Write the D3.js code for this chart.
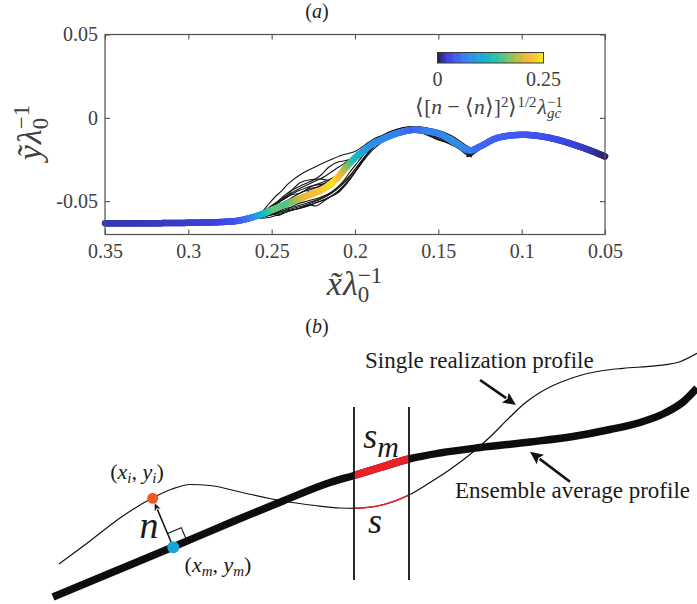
<!DOCTYPE html>
<html><head><meta charset="utf-8">
<script src="https://cdn.jsdelivr.net/npm/d3@7"></script>
<style>body{margin:0;background:#fff}svg{display:block}</style>
</head><body>
<svg id="c" width="697" height="604"></svg>
<script>
// ---------------- Panel (a) data ----------------
const xTicks = [0.35, 0.3, 0.25, 0.2, 0.15, 0.1, 0.05];
const xTickLabels = ["0.35", "0.3", "0.25", "0.2", "0.15", "0.1", "0.05"];
const yTicks = [-0.05, 0, 0.05];
const yTickLabels = ["-0.05", "0", "0.05"];
const cbTicks = [0, 0.25];
const cbTickLabels = ["0", "0.25"];

// ensemble-average profile and its normal-distance rms
const meanX = [0.35,0.32,0.30,0.28,0.27,0.262,0.255,0.248,0.24,0.23,0.22,0.212,0.206,0.2,0.195,0.19,0.185,0.179,0.172,0.165,0.158,0.149,0.139,0.131,0.125,0.115,0.101,0.089,0.079,0.069,0.059,0.05];
const meanY = [-0.0632,-0.0632,-0.0630,-0.0625,-0.0617,-0.0598,-0.0575,-0.0545,-0.0512,-0.0472,-0.0432,-0.0375,-0.0305,-0.0240,-0.0200,-0.0160,-0.0135,-0.0108,-0.0085,-0.0072,-0.0078,-0.0098,-0.0155,-0.0195,-0.0172,-0.0122,-0.0102,-0.0110,-0.0130,-0.0160,-0.0195,-0.0232];
const meanStd = [0.015,0.017,0.02,0.025,0.035,0.06,0.11,0.16,0.15,0.205,0.225,0.245,0.19,0.13,0.1,0.08,0.075,0.07,0.06,0.045,0.06,0.07,0.075,0.065,0.05,0.045,0.04,0.035,0.03,0.025,0.016,0.006];

// single realizations (upper group U, lower group L)
const realU1 = [[0.27,-0.0617],[0.262,-0.0597],[0.256,-0.0565],[0.252,-0.052],[0.248,-0.0475],[0.244,-0.0438],[0.24,-0.0395],[0.232,-0.0335],[0.224,-0.0295],[0.216,-0.0258],[0.208,-0.0225],[0.2,-0.0202],[0.194,-0.0162],[0.188,-0.0122],[0.181,-0.0098],[0.176,-0.0075],[0.17,-0.0058],[0.164,-0.0052],[0.158,-0.0058],[0.152,-0.0070],[0.147,-0.0085],[0.142,-0.0108],[0.137,-0.0140],[0.133,-0.0168],[0.13,-0.0182],[0.126,-0.0168],[0.12,-0.0140]];
const realU2 = [[0.262,-0.0597],[0.255,-0.057],[0.249,-0.0525],[0.244,-0.048],[0.238,-0.0435],[0.231,-0.040],[0.224,-0.0368],[0.22,-0.034],[0.216,-0.0298],[0.211,-0.0268],[0.205,-0.0255],[0.199,-0.0232],[0.194,-0.0198],[0.189,-0.0158],[0.182,-0.0125],[0.176,-0.0098],[0.17,-0.0085],[0.164,-0.0080],[0.158,-0.0090],[0.153,-0.0112],[0.148,-0.0135],[0.143,-0.0152],[0.139,-0.0168],[0.135,-0.0192],[0.132,-0.0215],[0.129,-0.0215],[0.125,-0.0185],[0.119,-0.0142]];
const realU3 = [[0.262,-0.0597],[0.254,-0.0565],[0.247,-0.0515],[0.241,-0.047],[0.237,-0.0425],[0.233,-0.039],[0.227,-0.0372],[0.22,-0.0368],[0.215,-0.0385],[0.214,-0.041],[0.218,-0.0435],[0.225,-0.0445],[0.229,-0.0432],[0.226,-0.041],[0.219,-0.0395],[0.212,-0.036],[0.206,-0.031],[0.2,-0.0252],[0.194,-0.0195],[0.188,-0.0142],[0.181,-0.0105],[0.175,-0.0080],[0.169,-0.0065],[0.163,-0.0060],[0.157,-0.0068],[0.151,-0.0092],[0.146,-0.0122],[0.142,-0.0130],[0.138,-0.0150],[0.134,-0.0185],[0.131,-0.0212],[0.128,-0.0198],[0.124,-0.0172],[0.119,-0.0140]];
const realU4 = [[0.258,-0.0585],[0.252,-0.0555],[0.246,-0.051],[0.24,-0.047],[0.234,-0.0438],[0.228,-0.0415],[0.221,-0.0392],[0.215,-0.0368],[0.209,-0.0335],[0.203,-0.029],[0.197,-0.0232],[0.191,-0.017],[0.185,-0.0125],[0.181,-0.0092],[0.175,-0.0068],[0.169,-0.0055],[0.163,-0.0056],[0.157,-0.0064],[0.151,-0.0080],[0.146,-0.0102],[0.141,-0.0128],[0.136,-0.0158],[0.132,-0.0188],[0.129,-0.0195],[0.125,-0.0175],[0.119,-0.0140]];
const realU5 = [[0.26,-0.0592],[0.253,-0.0562],[0.247,-0.0528],[0.241,-0.0498],[0.236,-0.0468],[0.231,-0.0442],[0.226,-0.0428],[0.22,-0.0405],[0.214,-0.0375],[0.208,-0.0325],[0.202,-0.027],[0.196,-0.021],[0.19,-0.0152],[0.184,-0.0115],[0.178,-0.0092],[0.172,-0.0078],[0.166,-0.0074],[0.16,-0.0080],[0.154,-0.0098],[0.149,-0.0122],[0.144,-0.0140],[0.139,-0.0158],[0.134,-0.0188],[0.131,-0.0202],[0.127,-0.0185],[0.121,-0.0148]];
const realU6 = [[0.257,-0.058],[0.251,-0.0538],[0.245,-0.0492],[0.239,-0.0455],[0.232,-0.0418],[0.225,-0.0385],[0.218,-0.035],[0.212,-0.031],[0.206,-0.027],[0.2,-0.0225],[0.195,-0.0182],[0.189,-0.0138],[0.183,-0.0102],[0.177,-0.0078],[0.171,-0.0062],[0.165,-0.0055],[0.159,-0.0060],[0.153,-0.0075],[0.148,-0.0092],[0.143,-0.0118],[0.138,-0.0150],[0.134,-0.0178],[0.13,-0.0190],[0.126,-0.0172],[0.12,-0.0143]];
const realU7 = [[0.259,-0.0588],[0.253,-0.0548],[0.248,-0.0512],[0.243,-0.049],[0.238,-0.0462],[0.233,-0.0452],[0.228,-0.0425],[0.222,-0.0415],[0.217,-0.0392],[0.211,-0.0352],[0.205,-0.0295],[0.199,-0.0232],[0.193,-0.0172],[0.187,-0.0128],[0.181,-0.0098],[0.175,-0.0078],[0.169,-0.0068],[0.163,-0.0066],[0.157,-0.0076],[0.152,-0.0092],[0.147,-0.0118],[0.142,-0.0140],[0.137,-0.0165],[0.133,-0.0192],[0.13,-0.0205],[0.126,-0.0185],[0.12,-0.0146]];
const realL1 = [[0.27,-0.0617],[0.262,-0.0603],[0.255,-0.0592],[0.248,-0.0578],[0.24,-0.056],[0.232,-0.0538],[0.225,-0.0515],[0.218,-0.049],[0.212,-0.0455],[0.207,-0.041],[0.202,-0.035],[0.197,-0.0282],[0.192,-0.021],[0.187,-0.0155],[0.182,-0.0118],[0.18,-0.0112],[0.174,-0.0092],[0.168,-0.0082],[0.162,-0.0085],[0.156,-0.0105],[0.151,-0.0128],[0.146,-0.0142],[0.141,-0.0162],[0.136,-0.0190],[0.132,-0.0220],[0.13,-0.0235],[0.131,-0.0225],[0.128,-0.0200],[0.123,-0.0168],[0.118,-0.0138]];
const realL2 = [[0.268,-0.0615],[0.26,-0.0605],[0.252,-0.0588],[0.245,-0.0565],[0.238,-0.0545],[0.231,-0.0528],[0.224,-0.0502],[0.217,-0.047],[0.211,-0.043],[0.205,-0.0375],[0.2,-0.031],[0.195,-0.0245],[0.19,-0.0185],[0.185,-0.0138],[0.179,-0.0105],[0.173,-0.0085],[0.167,-0.0074],[0.161,-0.0076],[0.155,-0.0090],[0.149,-0.0110],[0.144,-0.0135],[0.139,-0.0165],[0.135,-0.0195],[0.132,-0.0210],[0.128,-0.0192],[0.122,-0.0155]];
const realL3 = [[0.266,-0.061],[0.258,-0.0598],[0.25,-0.058],[0.243,-0.0548],[0.236,-0.0532],[0.229,-0.0512],[0.222,-0.0488],[0.215,-0.0452],[0.209,-0.0405],[0.203,-0.0345],[0.197,-0.027],[0.192,-0.0205],[0.187,-0.0155],[0.181,-0.0112],[0.175,-0.0088],[0.169,-0.0072],[0.163,-0.0066],[0.157,-0.0072],[0.152,-0.0086],[0.147,-0.0112],[0.142,-0.0145],[0.137,-0.0178],[0.133,-0.0205],[0.131,-0.0228],[0.133,-0.0232],[0.13,-0.0208],[0.125,-0.0175],[0.119,-0.0140]];
const realL4 = [[0.264,-0.0606],[0.256,-0.0596],[0.249,-0.0572],[0.242,-0.0555],[0.235,-0.0518],[0.228,-0.0498],[0.221,-0.0478],[0.214,-0.0445],[0.208,-0.0392],[0.203,-0.0325],[0.198,-0.0262],[0.193,-0.0198],[0.188,-0.0148],[0.182,-0.0110],[0.176,-0.0086],[0.17,-0.0070],[0.164,-0.0063],[0.158,-0.0070],[0.152,-0.0088],[0.147,-0.0100],[0.142,-0.0120],[0.137,-0.0155],[0.133,-0.0185],[0.13,-0.0198],[0.126,-0.0180],[0.12,-0.0146]];
const realL5 = [[0.265,-0.0608],[0.257,-0.0600],[0.251,-0.0575],[0.246,-0.0585],[0.24,-0.0558],[0.234,-0.0545],[0.228,-0.0522],[0.223,-0.0528],[0.218,-0.0495],[0.213,-0.0462],[0.208,-0.0425],[0.203,-0.0368],[0.198,-0.0298],[0.193,-0.0225],[0.188,-0.0165],[0.182,-0.0122],[0.176,-0.0095],[0.17,-0.0080],[0.164,-0.0078],[0.158,-0.0088],[0.153,-0.0108],[0.148,-0.0125],[0.143,-0.0148],[0.138,-0.0172],[0.134,-0.0200],[0.131,-0.0218],[0.128,-0.0205],[0.124,-0.0175],[0.118,-0.0138]];
const realL6 = [[0.267,-0.0612],[0.259,-0.0604],[0.252,-0.0598],[0.244,-0.0575],[0.237,-0.0552],[0.23,-0.0535],[0.223,-0.0508],[0.216,-0.048],[0.21,-0.0448],[0.205,-0.0395],[0.2,-0.0325],[0.195,-0.0258],[0.19,-0.0198],[0.184,-0.0148],[0.178,-0.0115],[0.172,-0.0095],[0.166,-0.0088],[0.16,-0.0092],[0.155,-0.0110],[0.15,-0.0132],[0.145,-0.0150],[0.14,-0.0172],[0.136,-0.0198],[0.133,-0.0222],[0.131,-0.0230],[0.128,-0.0210],[0.123,-0.0175],[0.118,-0.0140]];
const realizations = [realU1, realU2, realU3, realU4, realU5, realU6, realU7, realL1, realL2, realL3, realL4, realL5, realL6];

// colour map (fractions of the colorbar range)
const cmapStops = [0, 0.05, 0.10, 0.16, 0.25, 0.35, 0.45, 0.55, 0.65, 0.74, 0.82, 0.88, 0.95, 1.0];
const cmapColors = ["#231a33","#3434a8","#3d45e0","#4259f0","#3580f0","#2a9ae0","#14b4cc","#2cc0a8","#6cc470","#b0be40","#e8b83a","#fdbd3c","#f8d42c","#f5f21e"];

// ---------------- Panel (b) schematic data (schematic units) ----------------
const ensembleProfile = [[53,7],[113,32],[173,57],[233,82.5],[283,103],[330,121.5],[354,128.5],[380,136.5],[409,145],[440,151],[480,156.5],[530,162],[573,167.5],[610,174.5],[640,181.5],[665,191],[683,202],[697,216]];
const singleProfile = [[59,40],[90,63],[120,86],[152,105.7],[172,115],[190,119.5],[210,118.5],[240,112],[283,103],[315,98.5],[340,96],[354,95.7],[375,97.5],[395,103],[409,109],[430,121.5],[450,134.5],[470,149.5],[490,167],[510,187],[525,201],[540,211.5],[560,221.5],[580,228.5],[600,233],[623,235.7],[657,238.3],[680,242.3],[697,250.7]];
const sectionX = [354, 409];
const sectionY = [24, 197];
const pointI = [152.7, 105.7];
const pointM = [173.3, 56.7];
const arrowSingle = [[480, 224], [516, 199]];
const arrowEnsemble = [[570, 122.3], [530, 152.3]];

// ---------------- drawing ----------------
const FONT = "'Liberation Serif','Times New Roman',serif";
const svg = d3.select('#c');

function mathText(parent, parts, x, y, anchor, fill) {
  const t = parent.append('text').attr('x', 0).attr('y', 0).attr('font-family', FONT).attr('fill', fill || '#222');
  let prev = 0, lastW = 0;
  for (const p of parts) {
    const sh = p.sh || 0;
    const ts = t.append('tspan').attr('font-size', p.sz).attr('font-style', p.it ? 'italic' : 'normal')
      .attr('dy', sh - prev).text(p.t);
    if (p.back) ts.attr('dx', -lastW);
    else if (p.dx) ts.attr('dx', p.dx);
    prev = sh;
    lastW = ts.node().getComputedTextLength();
  }
  const bb = t.node().getBBox();
  let x0 = x;
  if (anchor === 'middle') x0 = x - bb.x - bb.width / 2;
  else if (anchor === 'end') x0 = x - bb.x - bb.width;
  t.attr('transform', `translate(${x0},${y})`);
  return t;
}

// scales panel a
const xa = d3.scaleLinear().domain([0.35, 0.05]).range([105, 605]);
const ya = d3.scaleLinear().domain([-0.07, 0.05]).range([234.5, 34.5]);
const cmap = d3.scaleLinear().domain(cmapStops.map(s => s * 0.25)).range(cmapColors).clamp(true);
const stdAt = d3.scaleLinear().domain(meanX).range(meanStd).clamp(true);

const gA = svg.append('g');

// realizations
const lineA = d3.line().x(d => xa(d[0])).y(d => ya(d[1])).curve(d3.curveCatmullRom.alpha(0.5));
gA.append('g').selectAll('path').data(realizations).join('path')
  .attr('d', lineA).attr('fill', 'none').attr('stroke', '#141414').attr('stroke-width', 1.1);

// coloured mean curve
const meanPts = meanX.map((x, i) => [x, meanY[i]]);
const hidden = gA.append('path').attr('d', lineA(meanPts)).attr('fill', 'none').attr('stroke', 'none');
const node = hidden.node();
const L = node.getTotalLength();
const segs = [];
let prevP = node.getPointAtLength(0);
for (let l = 1.2; l < L + 1.2; l += 1.2) {
  const p = node.getPointAtLength(Math.min(l, L));
  segs.push({a: prevP, b: p, c: cmap(stdAt(xa.invert((prevP.x + p.x) / 2)))});
  prevP = p;
}
gA.append('g').selectAll('line').data(segs).join('line')
  .attr('x1', d => d.a.x).attr('y1', d => d.a.y).attr('x2', d => d.b.x).attr('y2', d => d.b.y)
  .attr('stroke', d => d.c).attr('stroke-width', 6.5).attr('stroke-linecap', 'round');

// axes box and ticks
const axCol = '#505050';
gA.append('rect').attr('x', 105).attr('y', 34.5).attr('width', 500).attr('height', 200)
  .attr('fill', 'none').attr('stroke', axCol).attr('stroke-width', 1.2);

function styleAxis(g) {
  g.select('.domain').remove();
  g.selectAll('.tick line').attr('stroke', axCol).attr('stroke-width', 1.1);
  g.selectAll('.tick text').attr('font-family', FONT).attr('font-size', 20).attr('fill', '#404040');
}
gA.append('g').attr('transform', 'translate(0,234.5)')
  .call(d3.axisBottom(xa).tickValues(xTicks).tickFormat((d, i) => xTickLabels[i]).tickSizeInner(-5).tickSizeOuter(0).tickPadding(9))
  .call(styleAxis);
gA.append('g').attr('transform', 'translate(0,34.5)')
  .call(d3.axisTop(xa).tickValues(xTicks).tickFormat('').tickSizeInner(-5).tickSizeOuter(0))
  .call(styleAxis);
gA.append('g').attr('transform', 'translate(105,0)')
  .call(d3.axisLeft(ya).tickValues(yTicks).tickFormat((d, i) => yTickLabels[i]).tickSizeInner(-5).tickSizeOuter(0).tickPadding(7))
  .call(styleAxis);
gA.append('g').attr('transform', 'translate(605,0)')
  .call(d3.axisRight(ya).tickValues(yTicks).tickFormat('').tickSizeInner(-5).tickSizeOuter(0))
  .call(styleAxis);

// colorbar
const cbx = d3.scaleLinear().domain([0, 0.25]).range([437.5, 543.5]);
const cbSteps = d3.range(0, 120).map(i => i / 120 * 0.25);
gA.append('g').selectAll('rect').data(cbSteps).join('rect')
  .attr('x', d => cbx(d)).attr('y', 52.5).attr('width', (cbx(0.25) - cbx(0)) / 120 + 0.6).attr('height', 10.5)
  .attr('fill', d => cmap(d + 0.25 / 240));
gA.append('rect').attr('x', cbx(0)).attr('y', 52.5).attr('width', cbx(0.25) - cbx(0)).attr('height', 10.5)
  .attr('fill', 'none').attr('stroke', '#3a3a3a').attr('stroke-width', 1);
gA.append('g').selectAll('text').data(cbTicks).join('text')
  .attr('x', d => cbx(d)).attr('y', 86).attr('text-anchor', 'middle')
  .attr('font-family', FONT).attr('font-size', 20).attr('fill', '#404040')
  .text((d, i) => cbTickLabels[i]);

const M = 21.5, S = 15;
mathText(gA, [
  {t: '\u27E8[', sz: M}, {t: 'n', sz: M, it: true}, {t: ' \u2212 \u27E8', sz: M}, {t: 'n', sz: M, it: true},
  {t: '\u27E9]', sz: M}, {t: '2', sz: S, sh: -7}, {t: '\u27E9', sz: M}, {t: '1/2', sz: S, sh: -7},
  {t: '\u03BB', sz: M, it: true, dx: 1}, {t: 'gc', sz: S, it: true, sh: 4}, {t: '\u22121', sz: S, sh: -7, back: true}
], 489, 114, 'middle', '#404040');

// axis labels
mathText(gA, [
  {t: 'x\u0303', sz: 34, it: true}, {t: '\u03BB', sz: 34, it: true, dx: 1}, {t: '0', sz: 23, sh: 7},
  {t: '\u22121', sz: 23, sh: -12, back: true}
], 354, 295, 'middle', '#404040');
const gY = gA.append('g').attr('transform', 'translate(41,134) rotate(-90)');
mathText(gY, [
  {t: 'y\u0303', sz: 34, it: true}, {t: '\u03BB', sz: 34, it: true, dx: 1}, {t: '0', sz: 23, sh: 7},
  {t: '\u22121', sz: 23, sh: -12, back: true}
], 0, 0, 'middle', '#404040');

// panel titles
mathText(svg, [{t: '(', sz: 20}, {t: 'a', sz: 20, it: true}, {t: ')', sz: 20}], 317, 18, 'middle', '#222');
mathText(svg, [{t: '(', sz: 20}, {t: 'b', sz: 20, it: true}, {t: ')', sz: 20}], 317, 333, 'middle', '#222');

// ---------------- Panel (b) ----------------
const sx = d3.scaleLinear().domain([0, 697]).range([0, 697]);
const sy = d3.scaleLinear().domain([0, 274]).range([604, 330]);
const gB = svg.append('g');
const lineB = d3.line().x(d => sx(d[0])).y(d => sy(d[1])).curve(d3.curveMonotoneX);

const clip = svg.append('defs').append('clipPath').attr('id', 'sec');
clip.append('rect').attr('x', sx(sectionX[0])).attr('y', 300).attr('width', sx(sectionX[1]) - sx(sectionX[0])).attr('height', 304);

gB.append('path').attr('d', lineB(singleProfile)).attr('fill', 'none').attr('stroke', '#111').attr('stroke-width', 1.2);
gB.append('path').attr('d', lineB(ensembleProfile)).attr('fill', 'none').attr('stroke', '#0d0d0d').attr('stroke-width', 7.5);
gB.append('path').attr('d', lineB(singleProfile)).attr('clip-path', 'url(#sec)').attr('fill', 'none').attr('stroke', '#e8222a').attr('stroke-width', 1.4);
gB.append('path').attr('d', lineB(ensembleProfile)).attr('clip-path', 'url(#sec)').attr('fill', 'none').attr('stroke', '#ec2128').attr('stroke-width', 7.5);

gB.selectAll('line.sec').data(sectionX).join('line').attr('class', 'sec')
  .attr('x1', d => sx(d)).attr('x2', d => sx(d)).attr('y1', sy(sectionY[0])).attr('y2', sy(sectionY[1]))
  .attr('stroke', '#111').attr('stroke-width', 1.8);

function arrow(g, p0, p1, w, headL, headW) {
  const x0 = sx(p0[0]), y0 = sy(p0[1]), x1 = sx(p1[0]), y1 = sy(p1[1]);
  const dx = x1 - x0, dy = y1 - y0, len = Math.hypot(dx, dy);
  const ux = dx / len, uy = dy / len;
  const bx = x1 - ux * headL, by = y1 - uy * headL;
  g.append('line').attr('x1', x0).attr('y1', y0).attr('x2', bx + ux * 1).attr('y2', by + uy * 1)
    .attr('stroke', '#111').attr('stroke-width', w);
  g.append('path').attr('d', `M${x1},${y1}L${bx - uy * headW},${by + ux * headW}L${bx + ux * 2.5},${by + uy * 2.5}L${bx + uy * headW},${by - ux * headW}Z`)
    .attr('fill', '#111');
}

// normal vector n and right-angle marker
{
  const x0 = sx(pointM[0]), y0 = sy(pointM[1]);
  const xi = sx(pointI[0]), yi = sy(pointI[1]);
  const dx = xi - x0, dy = yi - y0, len = Math.hypot(dx, dy);
  const nx = dx / len, ny = dy / len;
  const tx = -ny, ty = nx;
  const d = 15;
  gB.append('path').attr('d', `M${x0 + nx * d},${y0 + ny * d}L${x0 + nx * d + tx * d},${y0 + ny * d + ty * d}L${x0 + tx * d},${y0 + ty * d}`)
    .attr('fill', 'none').attr('stroke', '#111').attr('stroke-width', 1.1);
  const tip = [pointI[0] - (nx * 5), pointI[1] + (ny * 5)];
  arrow(gB, pointM, tip, 1.5, 8, 3.2);
}

gB.append('circle').attr('cx', sx(pointI[0])).attr('cy', sy(pointI[1])).attr('r', 5.5).attr('fill', '#f05a22');
gB.append('circle').attr('cx', sx(pointM[0])).attr('cy', sy(pointM[1])).attr('r', 6).attr('fill', '#1aa3e0');

arrow(gB, arrowSingle[0], arrowSingle[1], 2.6, 13, 6);
arrow(gB, arrowEnsemble[0], arrowEnsemble[1], 2.6, 13, 6);

// labels panel b
gB.append('text').attr('x', 365).attr('y', 368).attr('font-family', FONT).attr('font-size', 23).attr('fill', '#1a1a1a').text('Single realization profile');
gB.append('text').attr('x', 455).attr('y', 498).attr('font-family', FONT).attr('font-size', 23).attr('fill', '#1a1a1a').text('Ensemble average profile');

mathText(gB, [{t: '(', sz: 22}, {t: 'x', sz: 22, it: true}, {t: 'i', sz: 15, it: true, sh: 4}, {t: ', ', sz: 22, sh: 0},
  {t: 'y', sz: 22, it: true}, {t: 'i', sz: 15, it: true, sh: 4}, {t: ')', sz: 22, sh: 0}], 137, 479, 'middle', '#1a1a1a');
mathText(gB, [{t: '(', sz: 22}, {t: 'x', sz: 22, it: true}, {t: 'm', sz: 15, it: true, sh: 4}, {t: ', ', sz: 22, sh: 0},
  {t: 'y', sz: 22, it: true}, {t: 'm', sz: 15, it: true, sh: 4}, {t: ')', sz: 22, sh: 0}], 218, 572, 'middle', '#1a1a1a');
mathText(gB, [{t: 'n', sz: 38, it: true}], 149, 538, 'middle', '#1a1a1a');
mathText(gB, [{t: 's', sz: 36, it: true}, {t: 'm', sz: 30, it: true, sh: 9}], 381, 448, 'middle', '#1a1a1a');
mathText(gB, [{t: 's', sz: 36, it: true}], 375, 533, 'middle', '#1a1a1a');
</script>
</body></html>
